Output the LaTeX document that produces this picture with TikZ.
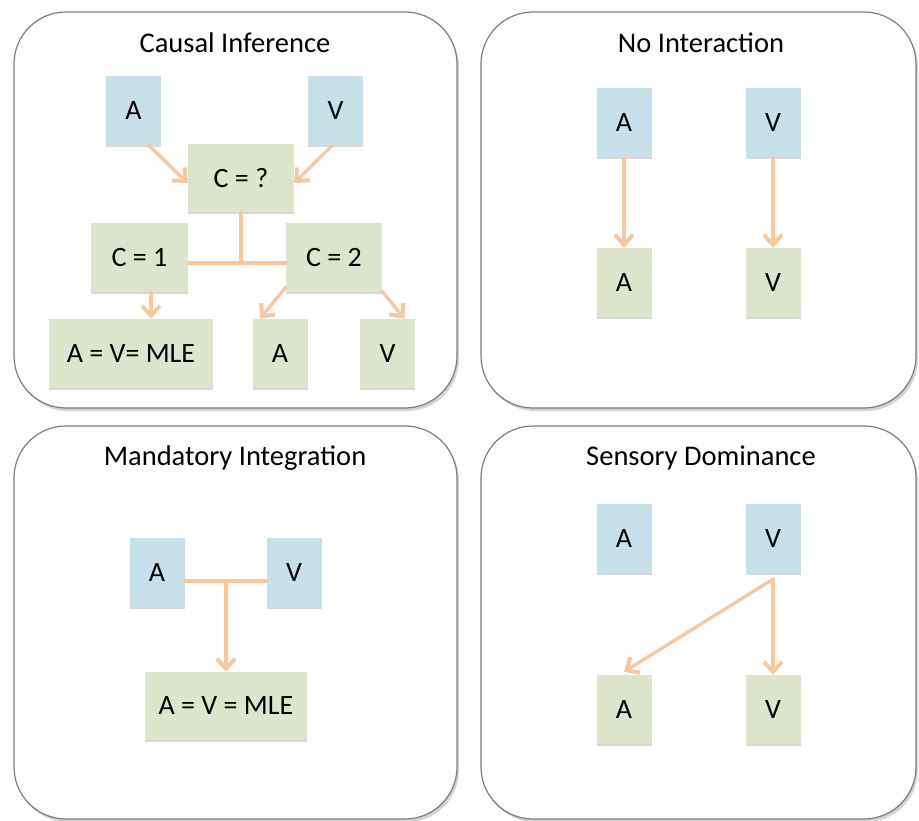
\documentclass[tikz,border=0pt]{standalone}
\usepackage{fontspec}
\setmainfont{Carlito}
\usetikzlibrary{arrows.meta,shadows}

\definecolor{senseblue}{RGB}{198,225,234}
\definecolor{perceptgreen}{RGB}{221,230,204}
\definecolor{linkpeach}{RGB}{247,199,160}
\definecolor{framegray}{RGB}{125,125,125}

\tikzset{
  panel/.style={draw=framegray, line width=1.2pt, fill=white, rounded corners=52pt,
    drop shadow={shadow xshift=2pt, shadow yshift=-3pt, opacity=0.35}},
  title/.style={font=\fontsize{28.5}{32}\selectfont},
  box/.style={rectangle, inner sep=0pt, font=\fontsize{28}{32}\selectfont,
    drop shadow={shadow xshift=0pt, shadow yshift=-2pt, opacity=0.3}},
  sense/.style={box, fill=senseblue, minimum width=55pt, minimum height=69pt},
  percept/.style={box, fill=perceptgreen, minimum width=55pt, minimum height=69pt},
  link/.style={draw=linkpeach, line width=3.3pt},
  linkarrow/.style={link, -{Straight Barb[length=10pt,width=18pt,line width=4pt]}},
}

\begin{document}
\begin{tikzpicture}[x=1pt, y=-1pt, line join=round, line cap=round]
  \useasboundingbox (0,0) rectangle (919,821);

  \draw[panel] (14,12) rectangle (457,408);
  \draw[panel] (481,12) rectangle (916,408);
  \draw[panel] (14,426) rectangle (457,819);
  \draw[panel] (481,426) rectangle (916,819);

  % causal inference
  \node[title] (ciTitle) at (235,43) {Causal Inference};
  \node[sense] (ciA) at (133.5,110.5) {A};
  \node[sense] (ciV) at (335.5,110.5) {V};
  \node[percept, minimum width=106pt, minimum height=68pt] (ciC) at (241,178) {C = ?};
  \node[percept, minimum width=97pt] (ciOne) at (139.5,257.5) {C = 1};
  \node[percept, minimum width=96pt] (ciTwo) at (334,257.5) {C = 2};
  \node[percept, minimum width=164pt] (ciMLE) at (131,353.5) {A = V= MLE};
  \node[percept] (ciAhat) at (280,353.5) {A};
  \node[percept] (ciVhat) at (387.5,353.5) {V};
  \coordinate (ciJoin) at (241,263);

  \draw[linkarrow] ([xshift=15pt]ciA.south) -- ([yshift=-5pt]ciC.west);
  \draw[linkarrow] ([xshift=-3pt]ciV.south) -- ([yshift=-5pt]ciC.east);
  \draw[link] (ciC.south) -- (ciJoin);
  \draw[link] ([yshift=-5.5pt]ciOne.east) -- ([yshift=-5.5pt]ciTwo.west);
  \draw[linkarrow] ([xshift=11.5pt]ciOne.south) -- ([xshift=20pt]ciMLE.north);
  \draw[linkarrow] ([yshift=5pt]ciTwo.south west) -- ([xshift=-20pt]ciAhat.north);
  \draw[linkarrow] ([yshift=1pt]ciTwo.south east) -- ([xshift=17pt]ciVhat.north);

  % no interaction
  \node[title] (niTitle) at (701,43) {No Interaction};
  \node[sense] (niA) at (624,122.5) {A};
  \node[sense] (niV) at (773,122.5) {V};
  \node[percept] (niAhat) at (624,282.5) {A};
  \node[percept] (niVhat) at (773,282.5) {V};

  \draw[linkarrow] (niA) -- (niAhat);
  \draw[linkarrow] (niV) -- (niVhat);

  % mandatory integration
  \node[title] (miTitle) at (235,458) {Mandatory Integration};
  \node[sense] (miA) at (157,572.5) {A};
  \node[sense] (miV) at (294,572.5) {V};
  \node[percept, minimum width=162pt, minimum height=68pt] (miMLE) at (226,706) {A = V = MLE};
  \coordinate (miJoin) at (226,581);

  \draw[link] ([yshift=-8.5pt]miA.east) -- ([yshift=-8.5pt]miV.west);
  \draw[linkarrow] (miJoin) -- (miMLE.north);

  % sensory dominance
  \node[title] (sdTitle) at (701,458) {Sensory Dominance};
  \node[sense] (sdA) at (624,538.5) {A};
  \node[sense] (sdV) at (773,538.5) {V};
  \node[percept] (sdAhat) at (624,709.5) {A};
  \node[percept] (sdVhat) at (773,709.5) {V};
  \coordinate (sdFork) at ([yshift=-6pt]sdV.south);

  \draw[linkarrow] (sdFork) -- (sdVhat.north);
  \draw[linkarrow] (sdFork) -- ([yshift=3pt]sdAhat.north);
\end{tikzpicture}
\end{document}
